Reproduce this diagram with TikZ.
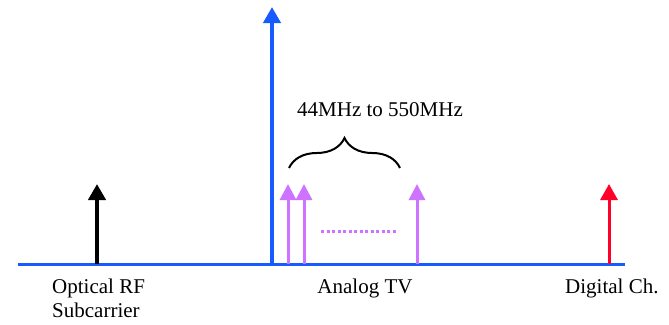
\documentclass[tikz,border=0pt]{standalone}
\usepackage{fontspec}
\setmainfont{Liberation Serif}
\usetikzlibrary{arrows.meta, decorations.pathreplacing, positioning}
\definecolor{lineblue}{RGB}{25,90,255}
\definecolor{tvpurple}{RGB}{205,115,255}
\definecolor{chred}{RGB}{255,0,40}

\begin{document}
\begin{tikzpicture}[
			x=1pt, y=-1pt,
			every node/.style={
					font=\fontsize{21}{24}\selectfont,
					inner sep=0pt
				},
			tone/.style={-{Triangle[width=17pt 0, length=16pt 0]}, line width=4pt},
			tvtone/.style={-{Triangle[width=16pt 0, length=16pt 0]}, line width=3pt, tvpurple}
		]
		\useasboundingbox (0, 0) rectangle (669, 324);

		% frequency axis
		\coordinate (axl) at (18, 264);
		\coordinate (axr) at (625, 264);
		\draw[lineblue, line width=3pt] (axl) -- (axr);

		% carriers
		\coordinate (rf) at (97, 264);
		\coordinate (opt) at (272, 264);
		\coordinate (tv1) at (288, 264);
		\coordinate (tv2) at (304, 264);
		\coordinate (tv3) at (417, 264);
		\coordinate (dig) at (609, 264);

		\draw[tone, black] (rf) -- (97, 184);
		\draw[tone, lineblue] (opt) -- (272, 7);
		\draw[tvtone] (tv1) -- (288, 184);
		\draw[tvtone] (tv2) -- (304, 184);
		\draw[tvtone] (tv3) -- (417, 184);
		\draw[tone, chred, line width=3pt] (dig) -- (609, 184);

		% more channels
		\coordinate (dl) at (321, 231);
		\coordinate (dr) at (398, 231);
		\draw[tvpurple, line width=3pt, dash pattern=on 3pt off 2.5pt] (dl) -- (dr);

		% band brace
		\coordinate (bl) at (289, 168);
		\coordinate (br) at (400, 168);
		\draw[decorate, decoration={brace, amplitude=30pt}, line width=2pt] (bl) -- (br);
		\node (band) at (380, 110) {44MHz to 550MHz};

		% labels
		\node[anchor=north west, align=left] (rflab) at (52, 279) {Optical RF\\Subcarrier};
		\node[anchor=north] (tvlab) at (365, 279) {Analog TV};
		\node[anchor=north west] (diglab) at (565, 279) {Digital Ch.};
	\end{tikzpicture}
\end{document}
